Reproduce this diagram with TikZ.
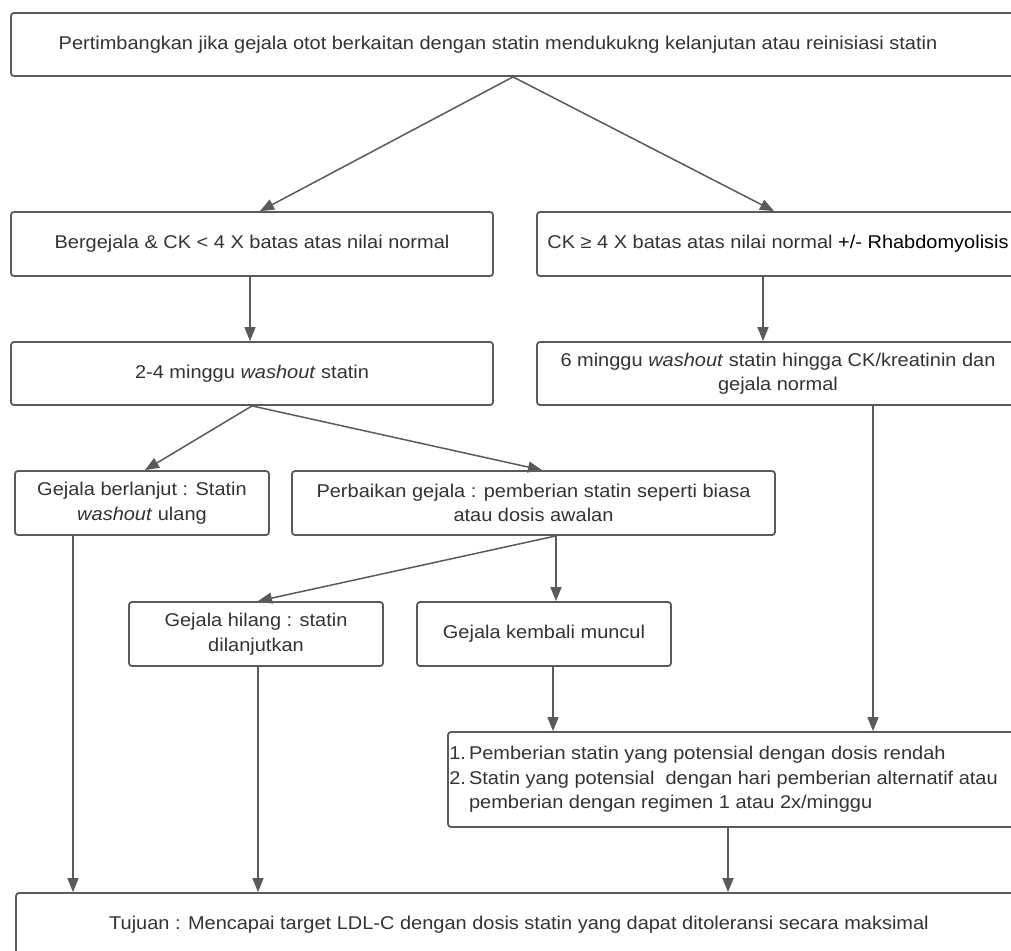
\documentclass[tikz,border=0pt]{standalone}
\usepackage{fontspec}
\setmainfont[FakeStretch=1.08]{Liberation Sans}
\usetikzlibrary{arrows.meta}
\definecolor{garis}{RGB}{90,90,90}
\definecolor{teks}{RGB}{51,51,51}

\begin{document}
\begin{tikzpicture}[x=1pt,y=-1pt,
        kotak/.style={draw=garis,line width=1.8pt,rounded corners=3pt,inner sep=0pt,
            minimum height=64pt,align=center,text=teks,font=\fontsize{18.5}{24.5}\selectfont},
        tulisan/.style={inner sep=0pt,align=left,text=teks,font=\fontsize{18.5}{24.5}\selectfont},
        panah/.style={draw=garis,line width=1.5pt,-{Triangle[length=14pt,width=11pt]}}] %Alur statin
            \useasboundingbox (0,0) rectangle (1011,950);
            \clip (0,0) rectangle (1011,950);
            \fill[white] (0,0) rectangle (1011,950);

            \node[kotak,minimum width=1004pt,minimum height=63pt] (awal) at (513,44.5) {};
            \node[tulisan] (awal-teks) at (498,44.5) {Pertimbangkan jika gejala otot berkaitan dengan statin mendukukng kelanjutan atau reinisiasi statin};

            \node[kotak,minimum width=482pt] (ckrendah) at (252,244) {Bergejala \& CK < 4 X batas atas nilai normal};
            \node[kotak,minimum width=482pt] (cktinggi) at (778,244) {CK ≥ 4 X batas atas nilai normal \textcolor{black}{+/- Rhabdomyolisis}};

            \node[kotak,minimum width=482pt,minimum height=63pt] (washout) at (252,373.5) {2-4 minggu \textit{washout} statin};
            \node[kotak,minimum width=482pt,minimum height=63pt] (enam) at (778,373.5) {6 minggu \textit{washout} statin hingga CK/kreatinin dan\\gejala normal};

            \node[kotak,minimum width=254pt] (lanjut) at (142,503) {Gejala berlanjut : Statin\\\textit{washout} ulang};
            \node[kotak,minimum width=483pt] (perbaikan) at (533.5,503) {Perbaikan gejala : pemberian statin seperti biasa\\atau dosis awalan};

            \node[kotak,minimum width=254pt] (hilang) at (256,634) {Gejala hilang : statin\\dilanjutkan};
            \node[kotak,minimum width=254pt] (kembali) at (544,634) {Gejala kembali muncul};

            \node[kotak,minimum width=580pt,minimum height=95pt] (opsi) at (738,779.5) {};
            \node[tulisan,anchor=west] (opsi-teks) at ([xshift=2pt]opsi.west) {\begin{tabular}{@{}l@{\,}l@{}}
                1. & Pemberian statin yang potensial dengan dosis rendah\\
                2. & Statin yang potensial\ \ dengan hari pemberian alternatif atau\\
                   & pemberian dengan regimen 1 atau 2x/minggu
            \end{tabular}};

            \node[kotak,minimum width=1006pt] (tujuan) at (519,925) {Tujuan : Mencapai target LDL-C dengan dosis statin yang dapat ditoleransi secara maksimal};

            \draw[panah] (awal.south) -- ([xshift=8pt]ckrendah.north);
            \draw[panah] (awal.south) -- ([xshift=-4pt]cktinggi.north);
            \draw[panah] ([xshift=-2pt]ckrendah.south) -- ([xshift=-2pt]washout.north);
            \draw[panah] ([xshift=-15pt]cktinggi.south) -- ([xshift=-15pt]enam.north);

            \draw[panah] (washout.south) -- ([xshift=3pt]lanjut.north);
            \draw[panah] (washout.south) -- ([xshift=8.5pt]perbaikan.north);
            \draw[panah] ([xshift=22.5pt]perbaikan.south) -- ([xshift=2pt]hilang.north);
            \draw[panah] ([xshift=22.5pt]perbaikan.south) -- ([xshift=12pt]kembali.north);

            \draw[panah] ([xshift=95pt]enam.south) -- ([xshift=95pt]enam.south |- opsi.north);
            \draw[panah] ([xshift=9pt]kembali.south) -- ([xshift=9pt]kembali.south |- opsi.north);
            \draw[panah] ([xshift=-69pt]lanjut.south) -- ([xshift=-69pt]lanjut.south |- tujuan.north);
            \draw[panah] ([xshift=2pt]hilang.south) -- ([xshift=2pt]hilang.south |- tujuan.north);
            \draw[panah] ([xshift=-10pt]opsi.south) -- ([xshift=-10pt]opsi.south |- tujuan.north);
        \end{tikzpicture}
\end{document}
